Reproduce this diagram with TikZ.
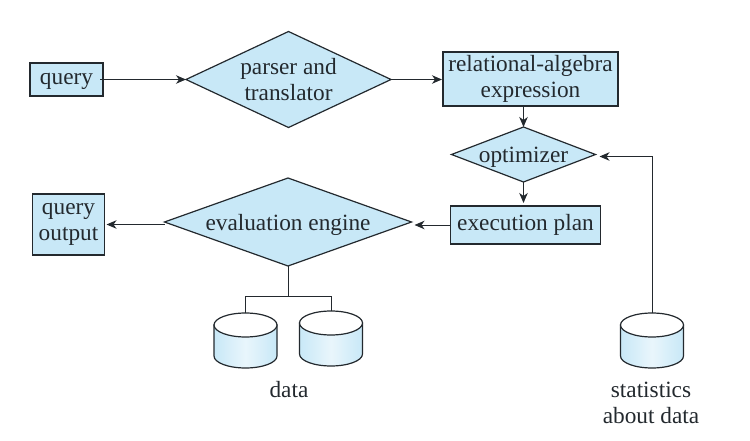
\documentclass[tikz,border=0pt]{standalone}
\usepackage{amsmath, amssymb}
\usepackage{fontspec}
\setmainfont{Liberation Serif}
\usetikzlibrary{positioning, shapes.geometric, arrows.meta}

\definecolor{boxblue}{HTML}{C8E8F7}
\definecolor{inkgray}{HTML}{23292E}

\tikzset{
	label text/.style={font=\fontsize{23.3}{25.5}\selectfont, text=inkgray, align=center, inner sep=0pt},
	box/.style={label text, draw=inkgray, fill=boxblue, line width=1.2pt, outer sep=0pt},
	choice/.style={box, diamond, inner sep=-15pt},
	single/.style={align=none, text height=18pt, text depth=7pt},
	lowered/.style={align=none, text height=23pt, text depth=7pt},
	flow/.style={-{Stealth[length=10pt, width=8.5pt, inset=3pt]}, draw=inkgray, line width=1pt},
	wire/.style={draw=inkgray, line width=1pt},
	disk/.style={draw=inkgray, line width=1.2pt}
}

% disk: name, centre x, top y
\newcommand{\diskat}[3]{
	\path[disk, left color=boxblue, right color=boxblue, middle color=boxblue!40]
		(#2-31.5,#3+12) -- (#2-31.5,#3+43) arc (180:360:31.5pt and 12pt) -- (#2+31.5,#3+12) -- cycle;
	\draw[disk, fill=white] (#2,#3+12) ellipse (31.5pt and 12pt);
	\coordinate (#1) at (#2,#3);
}

\begin{document}
\begin{tikzpicture}[x=1pt, y=-1pt]
	\useasboundingbox (0,0) rectangle (750,441);

	\node[box, single, minimum width=73pt, minimum height=33pt] (query) at (66.5,79.5) {query};
	\node[choice, aspect=2.14, minimum width=205pt, minimum height=96pt, right=83pt of query] (parser) {parser and\\translator};
	\node[box, minimum width=175pt, minimum height=54pt, right=52pt of parser.east, anchor=west, yshift=.5pt] (relalg) {relational-algebra\\expression};

	\node[choice, lowered, aspect=2.62, minimum width=144pt, minimum height=55pt, below=21pt of relalg, xshift=-7pt] (optimizer) {optimizer};
	\node[box, single, minimum width=150pt, minimum height=38pt, below=24pt of optimizer, xshift=2pt] (plan) {execution plan};
	\node[choice, lowered, aspect=2.81, minimum width=247pt, minimum height=88pt, left=39pt of plan, yshift=3pt] (engine) {evaluation engine};
	\node[box, minimum width=72pt, minimum height=61pt, left=60pt of engine, yshift=-2.5pt] (output) {query\\output};

	% disks and the tee above them
	\diskat{diskA}{245.5}{313}
	\diskat{diskB}{331}{311}
	\diskat{diskC}{652}{313}
	\node[label text] (data) at (289,390) {data};
	\node[label text] (stats) at (651,403) {statistics\\about data};

	\coordinate (tee) at (engine.south |- 0,296);
	\coordinate (teeA) at (diskA |- tee);
	\coordinate (teeB) at (diskB |- tee);
	\coordinate (bend) at ([yshift=-2pt]diskC |- optimizer.east);

	\draw[flow, shorten <=-3pt, yshift=-1.5pt] (query.east) -- (query.east -| parser.west);
	\draw[flow, shorten >=1pt, yshift=-1.5pt] (parser.east) -- (parser.east -| relalg.west);
	\draw[flow] (optimizer.north |- relalg.south) -- (optimizer.north);
	\draw[flow, shorten >=3pt] (optimizer.south) -- (optimizer.south |- plan.north);
	\draw[flow, shorten >=3pt] (plan.west) -- (plan.west -| engine.east);
	\draw[flow, shorten >=2pt] (engine.west |- output.east) -- (output.east);
	\draw[flow, shorten >=4pt] (diskC) -- (bend) -- ([yshift=-2pt]optimizer.east);
	\draw[wire] (engine.south) -- (tee);
	\draw[wire] (diskA) -- (teeA) -- (teeB) -- (diskB);
\end{tikzpicture}
\end{document}
